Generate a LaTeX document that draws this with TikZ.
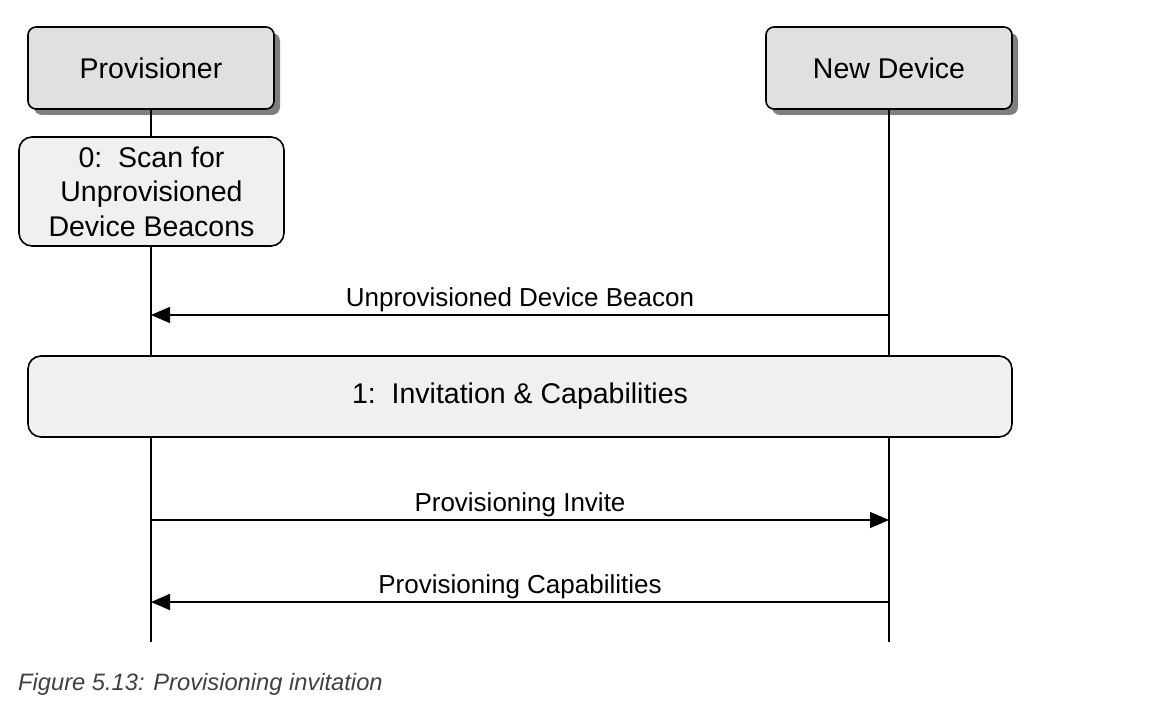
\documentclass[tikz,border=0pt]{standalone}
\usepackage{fontspec}
\setmainfont{Liberation Sans}
\usetikzlibrary{arrows.meta}
\definecolor{headfill}{HTML}{E0E0E0}
\definecolor{stepfill}{HTML}{F0F0F0}
\definecolor{shadowgray}{HTML}{7F7F7F}
\definecolor{captiongray}{HTML}{404040}
\begin{document}
\begin{tikzpicture}[x=1pt,y=-1pt,
  actor/.style={draw=black, line width=1.6pt, fill=headfill, rounded corners=8pt,
    minimum width=246pt, minimum height=82pt, inner sep=0pt,
    font=\fontsize{28.5}{34}\selectfont},
  phase/.style={draw=black, line width=1.6pt, fill=stepfill, rounded corners=13pt,
    inner sep=0pt, align=center, font=\fontsize{28.5}{34.5}\selectfont},
  lifeline/.style={line width=1.6pt},
  msg/.style={line width=1.6pt, -{Triangle[length=19pt,width=16pt]}},
  msglabel/.style={font=\fontsize{26}{30}\selectfont, inner sep=0pt, anchor=base},
  caption/.style={font=\fontsize{23.7}{28}\selectfont\itshape, text=captiongray,
    inner sep=0pt, anchor=base west}]
\useasboundingbox (0,0) rectangle (1164,714);

% participant heads with drop shadows
\fill[shadowgray, rounded corners=8pt] (34,33) rectangle (280,115);
\fill[shadowgray, rounded corners=8pt] (772,33) rectangle (1018,115);
\node[actor] (prov) at (151,68) {Provisioner};
\node[actor] (dev) at (889,68) {New Device};

% lifeline ends
\coordinate (provEnd) at (151,642);
\coordinate (devEnd) at (889,642);
\draw[lifeline] (prov.south) -- (provEnd);
\draw[lifeline] (dev.south) -- (devEnd);

% phase boxes
\node[phase, minimum width=265pt, minimum height=109pt] (scan) at (151.5,191.5)
  {0:\ \ Scan for\\Unprovisioned\\Device Beacons};
\node[phase, minimum width=984pt, minimum height=81pt] (invite) at (520,396.5)
  {1:\ \ Invitation \& Capabilities};

% message end points on the lifelines
\coordinate (p1) at (151,315);
\coordinate (d1) at (889,315);
\coordinate (p2) at (151,520);
\coordinate (d2) at (889,520);
\coordinate (p3) at (151,602);
\coordinate (d3) at (889,602);

\draw[msg] (d1) -- (p1);
\draw[msg] (p2) -- (d2);
\draw[msg] (d3) -- (p3);

\node[msglabel] (l1) at (520,306) {Unprovisioned Device Beacon};
\node[msglabel] (l2) at (520,511) {Provisioning Invite};
\node[msglabel] (l3) at (520,593) {Provisioning Capabilities};

\node[caption] (cap) at (18,690) {Figure 5.13: Provisioning invitation};
\end{tikzpicture}
\end{document}
